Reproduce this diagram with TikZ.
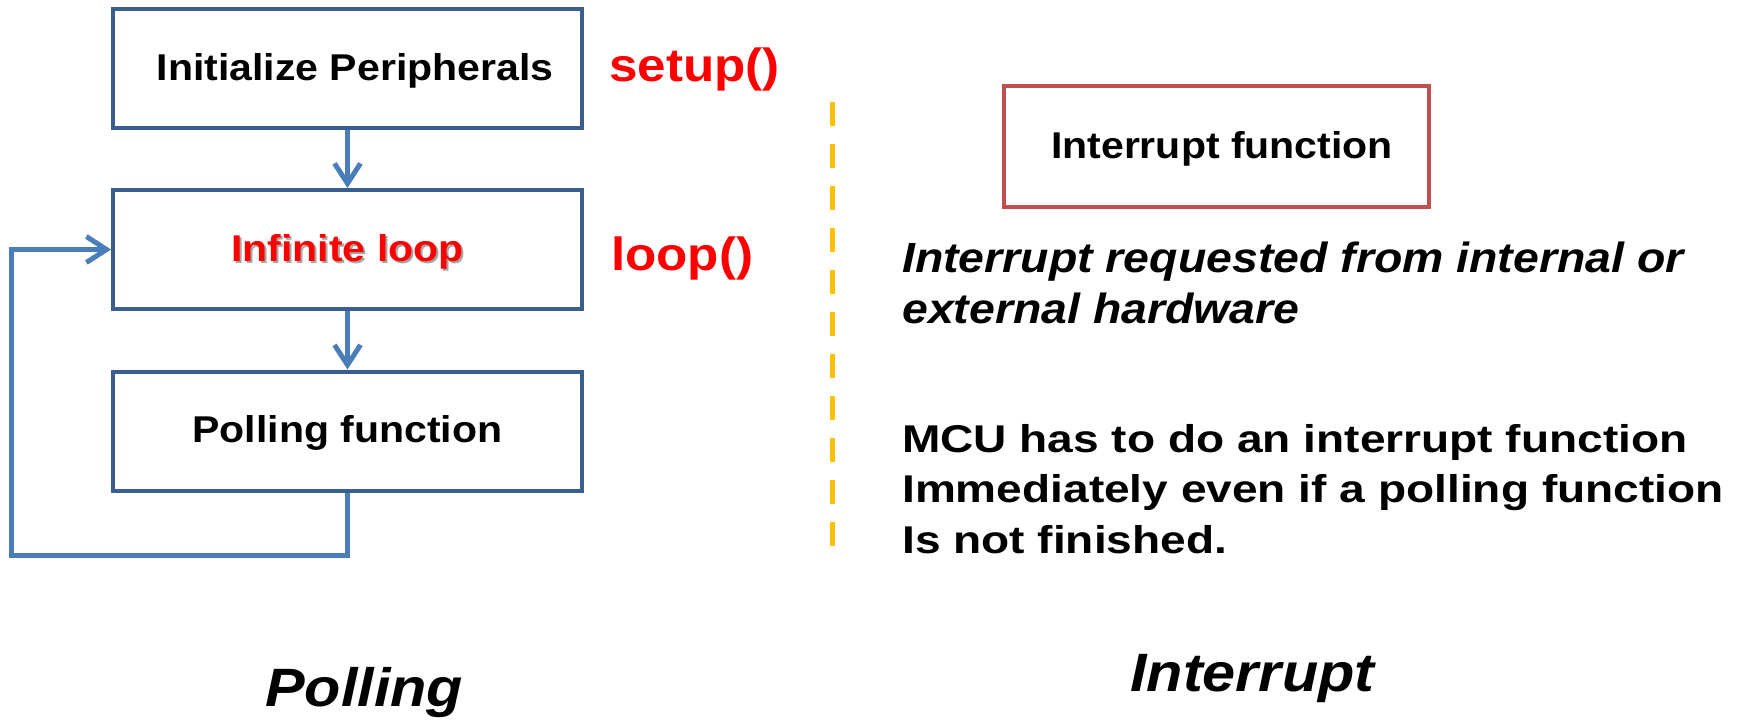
\documentclass[tikz,border=0pt]{standalone}
\usepackage{fontspec}
\usetikzlibrary{arrows.meta}
\newfontfamily\arialw[FakeStretch=1.1]{Liberation Sans}
\newfontfamily\arialx[FakeStretch=1.19]{Liberation Sans}
\definecolor{boxblue}{HTML}{3A5F8F}
\definecolor{linkblue}{HTML}{4A7EBB}
\definecolor{isrred}{HTML}{C0504D}
\definecolor{divider}{HTML}{FFC000}
\definecolor{hot}{HTML}{FF0000}
\begin{document}
\begin{tikzpicture}[x=1pt,y=-1pt,
  flowbox/.style={draw=boxblue, line width=4pt, minimum width=469pt, minimum height=119pt,
    inner sep=0pt, text height=27pt, text depth=4pt,
    font=\arialw\bfseries\fontsize{37.3}{44}\selectfont},
  isrbox/.style={draw=isrred, line width=4pt, minimum width=425pt, minimum height=121pt,
    inner sep=0pt, text height=27pt, text depth=4pt,
    font=\arialw\bfseries\fontsize{37.3}{44}\selectfont},
  link/.style={draw=linkblue, line width=5pt, -{Straight Barb[length=20pt,width=26pt,line width=5pt]}},
  fname/.style={anchor=base west, inner sep=0pt, text=hot, font=\arialw\bfseries\fontsize{46.5}{56}\selectfont},
  note/.style={anchor=base west, inner sep=0pt, font=\arialx\bfseries\fontsize{38.7}{48}\selectfont},
  noteit/.style={anchor=base west, inner sep=0pt, font=\arialw\bfseries\itshape\fontsize{42.2}{50}\selectfont},
  heading/.style={anchor=base west, inner sep=0pt, font=\arialw\bfseries\itshape\fontsize{54}{64}\selectfont}
]
\useasboundingbox (0,0) rectangle (1752,721);

% polling flow
\node[flowbox] (init) at (347.5,68.5) {\hspace*{15pt}Initialize Peripherals};
\node[flowbox, text=hot] (loopbox) at (347.5,249.5)
  {\makebox[0pt][l]{\hspace{2pt}\raisebox{-2pt}{\color{black!35}Infinite loop}}Infinite loop};
\node[flowbox] (poll) at (347.5,431) {Polling function};

\node[fname] (setup) at (609,81.7) {setup()};
\node[fname] (loopfn) at (611,270) {loop()};

\coordinate (back) at (11,555);
\draw[link] (init.south) -- (loopbox.north);
\draw[link] (loopbox.south) -- (poll.north);
\draw[link] (poll.south) |- (back) |- (loopbox.west);

% divider
\draw[divider, line width=5pt, dash pattern=on 24pt off 18pt] (832,102) coordinate (d1) -- (832,546) coordinate (d2);

% interrupt side
\node[isrbox] (isr) at (1216.5,146.5) {\hspace*{11pt}Interrupt function};
\node[noteit] (req1) at (902,272.7) {Interrupt requested from internal or};
\node[noteit] (req2) at (902,323) {external hardware};
\node[note] (mcu1) at (902,452) {MCU has to do an interrupt function};
\node[note] (mcu2) at (902,502.5) {Immediately even if a polling function};
\node[note] (mcu3) at (902,553) {Is not finished.};

% headings
\node[heading] (hpoll) at (265,706.7) {Polling};
\node[heading] (hisr) at (1130,691.7) {Interrupt};
\end{tikzpicture}
\end{document}
